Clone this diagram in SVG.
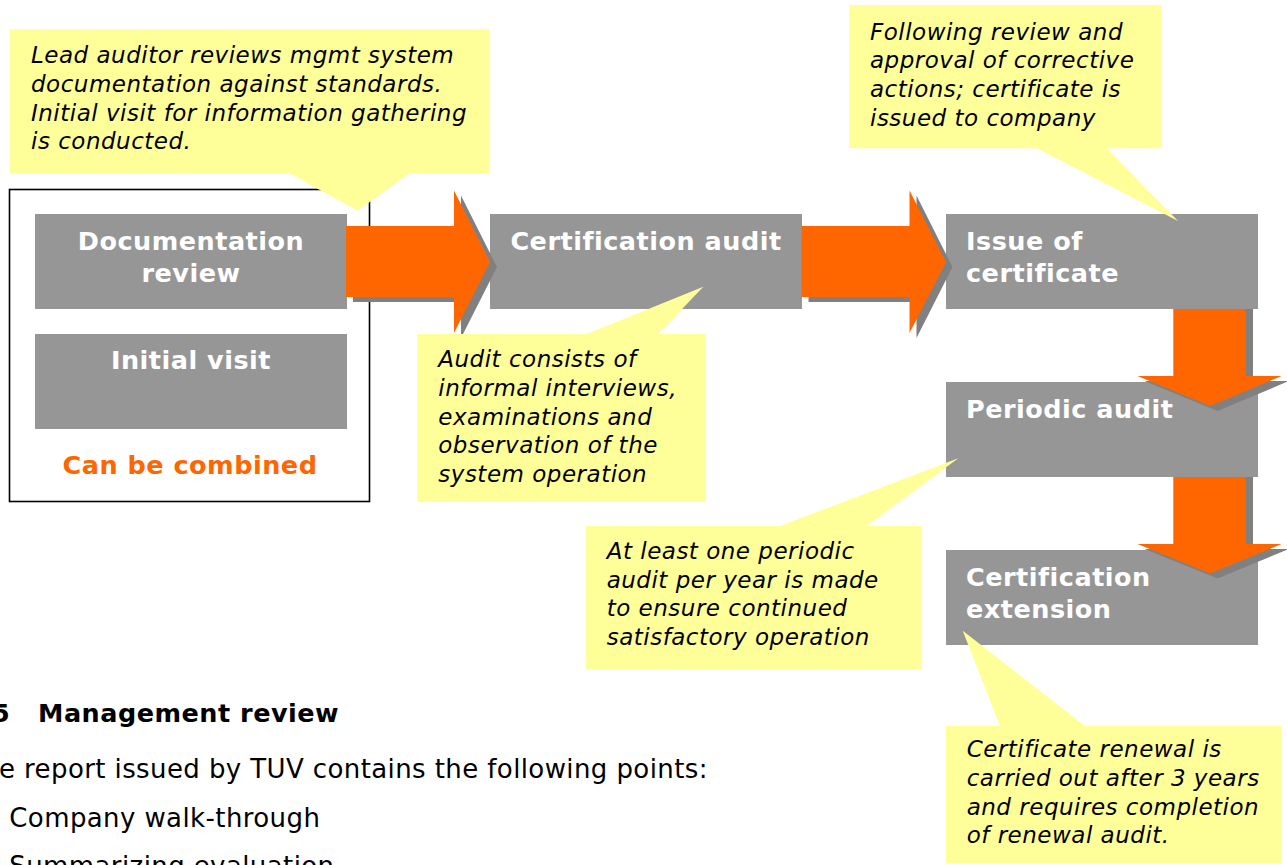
<svg xmlns="http://www.w3.org/2000/svg" width="1287" height="865" viewBox="0 0 1287 865">
<style>
.box{fill:#969696}
.lbl{font-family:"DejaVu Sans",Verdana,sans-serif;font-weight:bold;font-size:25.5px;fill:#ffffff;letter-spacing:0.5px}
.mid{text-anchor:middle}
.arr{fill:#FF6600}
.sh{fill:#808080}
.note{fill:#FFFF99}
.nt{font-family:"DejaVu Sans",Verdana,sans-serif;font-style:italic;font-size:23px;letter-spacing:0.5px;fill:#000000}
.body{font-family:"DejaVu Sans",Verdana,sans-serif;font-size:26px;letter-spacing:0.4px;fill:#000000}
.head{font-family:"DejaVu Sans",Verdana,sans-serif;font-weight:bold;font-size:25.5px;letter-spacing:0.5px;fill:#000000}
</style>
<rect width="1287" height="865" fill="#ffffff"/>

<g id="combined-frame">
<rect x="9.5" y="189.5" width="360" height="312" fill="none" stroke="#000000" stroke-width="1.6"/>
<text x="190" y="474" class="lbl mid" style="fill:#FF6600">Can be combined</text>
</g>

<g id="documentation-review">
<rect class="box" x="35" y="214" width="312" height="95"/>
<text class="lbl mid" x="191" y="250">Documentation</text>
<text class="lbl mid" x="191" y="282">review</text>
</g>

<g id="initial-visit">
<rect class="box" x="35" y="334" width="312" height="95"/>
<text class="lbl mid" x="191" y="369">Initial visit</text>
</g>

<g id="certification-audit">
<rect class="box" x="490" y="214" width="312" height="95"/>
<text class="lbl mid" x="646" y="250">Certification audit</text>
</g>

<g id="issue-of-certificate">
<rect class="box" x="946" y="214" width="312" height="95"/>
<text class="lbl" x="966" y="250">Issue of</text>
<text class="lbl" x="966" y="282">certificate</text>
</g>

<g id="periodic-audit">
<rect class="box" x="946" y="382" width="312" height="95"/>
<text class="lbl" x="966" y="418">Periodic audit</text>
</g>

<g id="certification-extension">
<rect class="box" x="946" y="550" width="312" height="95"/>
<text class="lbl" x="966" y="586">Certification</text>
<text class="lbl" x="966" y="618">extension</text>
</g>

<g id="connectors">
<path class="sh" d="M353,231 H461 V195.5 L497,267 L461,338 V302 H353 Z"/>
<path class="arr" d="M346,226 H454 V190.5 L490,262 L454,333 V297 H346 Z"/>
<path class="sh" d="M808.5,231 H916.5 V195.5 L952.5,267 L916.5,338 V302 H808.5 Z"/>
<path class="arr" d="M801.5,226 H909.5 V190.5 L946,262 L909.5,333 V297 H801.5 Z"/>
<path class="sh" d="M1180,309 H1253 V381 H1289 L1217.5,411 L1144.5,381 H1180 Z"/>
<path class="arr" d="M1173.3,309 H1246 V376 H1281.5 L1210,406 L1137.5,376 H1173.3 Z"/>
<path class="sh" d="M1180,477 H1253 V549 H1289 L1217.5,578.5 L1144.5,549 H1180 Z"/>
<path class="arr" d="M1173.3,477 H1246 V544 H1281.5 L1210,573.5 L1137.5,544 H1173.3 Z"/>
</g>

<g id="note-documentation">
<path class="note" d="M10,29.3 H489.3 V173.3 H409.3 L357.7,210.7 L289.3,173.3 H10 Z"/>
<text class="nt" x="31" y="63.3">Lead auditor reviews mgmt system</text>
<text class="nt" x="31" y="92">documentation against standards.</text>
<text class="nt" x="31" y="120.7">Initial visit for information gathering</text>
<text class="nt" x="31" y="149.3">is conducted.</text>
</g>

<g id="note-issue">
<path class="note" d="M849.3,5 H1161.7 V148.3 H1106.7 L1178,221 L1036.7,148.3 H849.3 Z"/>
<text class="nt" x="870" y="39.5">Following review and</text>
<text class="nt" x="870" y="68.2">approval of corrective</text>
<text class="nt" x="870" y="96.9">actions; certificate is</text>
<text class="nt" x="870" y="125.6">issued to company</text>
</g>

<g id="note-audit">
<path class="note" d="M417.3,334 H586.7 L703.3,286.7 L658.3,334 H705.7 V501.7 H417.3 Z"/>
<text class="nt" x="438.3" y="367.3">Audit consists of</text>
<text class="nt" x="438.3" y="395.9">informal interviews,</text>
<text class="nt" x="438.3" y="424.5">examinations and</text>
<text class="nt" x="438.3" y="453.1">observation of the</text>
<text class="nt" x="438.3" y="481.7">system operation</text>
</g>

<g id="note-periodic">
<path class="note" d="M586,526 H780 L958.3,458.3 L866.7,526 H921.7 V669.3 H586 Z"/>
<text class="nt" x="606.7" y="559">At least one periodic</text>
<text class="nt" x="606.7" y="587.7">audit per year is made</text>
<text class="nt" x="606.7" y="616.3">to ensure continued</text>
<text class="nt" x="606.7" y="645">satisfactory operation</text>
</g>

<g id="note-extension">
<path class="note" d="M946,726 H1000 L962.7,630.7 L1085,726 H1281.7 V863 H946 Z"/>
<text class="nt" x="966.7" y="756.7">Certificate renewal is</text>
<text class="nt" x="966.7" y="785.6">carried out after 3 years</text>
<text class="nt" x="966.7" y="814.5">and requires completion</text>
<text class="nt" x="966.7" y="843.3">of renewal audit.</text>
</g>

<g id="page-text">
<text class="head" x="-8" y="722">5</text>
<text class="head" x="38" y="722">Management review</text>
<text class="body" x="-1" y="778.3">e report issued by TUV contains the following points:</text>
<text class="body" x="9.3" y="826.7">Company walk-through</text>
<text class="body" x="9.3" y="875">Summarizing evaluation</text>
</g>
</svg>
